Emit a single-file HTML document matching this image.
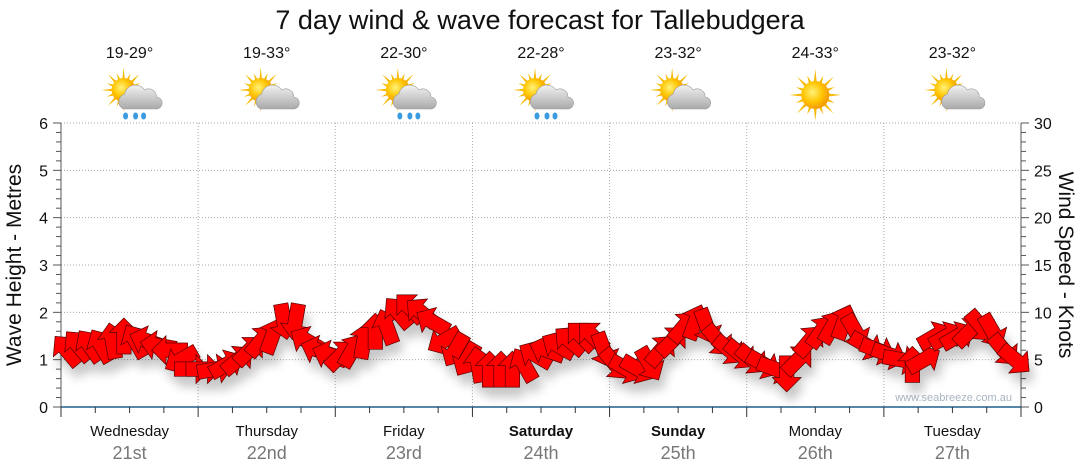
<!DOCTYPE html>
<html><head><meta charset="utf-8"><style>
body{margin:0;background:#fff;font-family:"Liberation Sans","DejaVu Sans",sans-serif}
svg{display:block}
</style></head><body>
<svg width="1080" height="475" viewBox="0 0 1080 475">
<defs>
<radialGradient id="sun" cx="0.4" cy="0.4" r="0.6"><stop offset="0" stop-color="#fff27a"/><stop offset="0.6" stop-color="#ffc400"/><stop offset="1" stop-color="#f39a00"/></radialGradient>
<linearGradient id="cloud" x1="0" y1="0" x2="0" y2="1"><stop offset="0" stop-color="#f2f2f2"/><stop offset="1" stop-color="#a9a9a9"/></linearGradient>
<filter id="shadow" x="-20%" y="-20%" width="140%" height="160%"><feGaussianBlur in="SourceAlpha" stdDeviation="5"/><feOffset dx="4" dy="10"/><feComponentTransfer><feFuncA type="linear" slope="0.22"/></feComponentTransfer><feMerge><feMergeNode/><feMergeNode in="SourceGraphic"/></feMerge></filter>
</defs>
<text x="540" y="29" text-anchor="middle" font-size="27" fill="#111">7 day wind &amp; wave forecast for Tallebudgera</text>
<g id="header"></g>
<g id="grid"></g>
<g id="axes"></g>
<text x="1012" y="401" text-anchor="end" font-size="11" fill="#a8b4c0">www.seabreeze.com.au</text>
<g id="arrows" filter="url(#shadow)"></g>
<text transform="translate(21,265) rotate(-90)" text-anchor="middle" font-size="21" fill="#111">Wave Height - Metres</text>
<text transform="translate(1059,265) rotate(90)" text-anchor="middle" font-size="21" fill="#111">Wind Speed - Knots</text>
</svg>
<script>
const days=["Wednesday","Thursday","Friday","Saturday","Sunday","Monday","Tuesday"];
const dates=["21st","22nd","23rd","24th","25th","26th","27th"];
const boldDays=[false,false,false,true,true,false,false];
const temps=["19-29°","19-33°","22-30°","22-28°","23-32°","24-33°","23-32°"];
const icons=["rain","cloud","rain","rain","cloud","sun","cloud"];
const leftTicks=[0,1,2,3,4,5,6];
const rightTicks=[0,5,10,15,20,25,30];
const windSpeed=[6,6.5,6.5,6.5,7,7.5,7,7,6.5,6,5,4,
4,4,4.5,5,6,7,7.5,9,9,7,6,5.5,
5.5,6,7,8,8.5,10,10.5,10,9,7,6,5,
4.5,4,4,4,4.5,5.5,6,6.5,7,7.5,7.5,6,
4.5,4,4,4.5,6,7,8.5,9,8.5,7,6,5.5,
5,4.5,4,3.5,5,7,8,8.5,9,8,6.5,6,
5.5,5,4.5,5,7.5,7.5,7.5,8,8.5,8,6,5];
const windDir=[-40,-40,-35,-30,-10,0,-30,-70,-80,-90,-120,90,
90,80,60,50,45,40,20,170,190,300,290,290,
45,30,10,0,-20,-40,-45,-50,-60,-120,-150,-150,
-10,0,0,0,-30,-60,-70,-60,-50,-45,-45,160,
140,120,120,150,40,45,40,20,160,140,130,130,
130,120,110,180,45,40,35,30,20,150,120,110,
110,100,0,60,60,60,60,45,140,150,140,130];

const NS="http://www.w3.org/2000/svg";
function mk(t,a,p){const e=document.createElementNS(NS,t);for(const k in a)e.setAttribute(k,a[k]);p.appendChild(e);return e;}
const X0=61,X1=1021,Y0=407,Y1=123;
const dayW=(X1-X0)/7;
const yM=v=>Y0-(v/6)*(Y0-Y1);
const yK=v=>Y0-(v/30)*(Y0-Y1);
const xT=i=>X0+(i+0.5)*dayW/12;

const grid=document.getElementById('grid');
for(const t of leftTicks){if(t===0)continue;
 const l=mk('line',{x1:X0,x2:X1,y1:yM(t),y2:yM(t),stroke:'#aaa','stroke-dasharray':'1,2'},grid);
 
 }
for(let d=1;d<=7;d++){const x=X0+d*dayW;
 const l=mk('line',{x1:x,x2:x,y1:Y1,y2:Y0,stroke:'#aaa','stroke-dasharray':'1,2'},grid);
 
 }

const ax=document.getElementById('axes');
mk('line',{x1:X0,x2:X0,y1:Y1,y2:Y0,stroke:'#555'},ax);
mk('line',{x1:X1,x2:X1,y1:Y1,y2:Y0,stroke:'#555'},ax);
mk('line',{x1:X0,x2:X1,y1:Y0,y2:Y0,stroke:'#1f5f8b','stroke-width':1.5},ax);
for(let v=0;v<=6.001;v+=0.2){const y=yM(v);const major=Math.abs(v-Math.round(v))<0.01;
 mk('line',{x1:X0-(major?8:5),x2:X0,y1:y,y2:y,stroke:'#555'},ax);
 mk('line',{x1:X1,x2:X1+(major?8:5),y1:y,y2:y,stroke:'#555'},ax);}
for(const t of leftTicks){const tx=mk('text',{x:X0-13,y:yM(t)+6,'text-anchor':'end','font-size':16,fill:'#111'},ax);tx.textContent=t;
 
 }
for(const t of rightTicks){const tx=mk('text',{x:X1+13,y:yK(t)+6,'font-size':16,fill:'#111'},ax);tx.textContent=t;
 
 }
for(let i=0;i<=28;i++){const x=X0+i*dayW/4;mk('line',{x1:x,x2:x,y1:Y0,y2:Y0+(i%4===0?10:6),stroke:'#333'},ax);}
days.forEach((d,i)=>{const cx=X0+(i+0.5)*dayW;
 const t=mk('text',{x:cx,y:436,'text-anchor':'middle','font-size':15,fill:'#111','font-weight':boldDays[i]?'bold':'normal'},ax);t.textContent=d;
 
 
 const t2=mk('text',{x:cx,y:459,'text-anchor':'middle','font-size':18,fill:'#777'},ax);t2.textContent=dates[i];
 
 });

const hd=document.getElementById('header');
function sun(g,cx,cy,r){for(let k=0;k<16;k++){const a=k*Math.PI/8;const L=k%2?r*1.5:r*1.85;
 mk('polygon',{points:`${cx+Math.cos(a-0.12)*r*0.9},${cy+Math.sin(a-0.12)*r*0.9} ${cx+Math.cos(a)*L},${cy+Math.sin(a)*L} ${cx+Math.cos(a+0.12)*r*0.9},${cy+Math.sin(a+0.12)*r*0.9}`,fill:'#f6b800'},g);}
 mk('circle',{cx,cy,r,fill:'url(#sun)'},g);}
function cloud(g,cx,cy){mk('path',{d:`M${cx-14},${cy+14} a8,8 0 0 1 1,-15 a11,11 0 0 1 20,-4 a8,8 0 0 1 12,7 a6,6 0 0 1 -1,12 z`,fill:'url(#cloud)',stroke:'#999','stroke-width':0.6},g);}
temps.forEach((t,i)=>{const cx=X0+(i+0.5)*dayW;
 const tx=mk('text',{x:cx,y:58,'text-anchor':'middle','font-size':16,fill:'#111'},hd);tx.textContent=t;
 
 
 const g=mk('g',{},hd);
 
 
 if(icons[i]==='sun'){sun(g,cx,95,14);}
 else{sun(g,cx-6,90,12);cloud(g,cx+8,95);
  if(icons[i]==='rain'){[-4,6,14].forEach(dx=>mk('ellipse',{cx:cx+dx,cy:116,rx:2.5,ry:3.5,fill:'#3a9be0'},g));}}
});

const ar=document.getElementById('arrows');
windSpeed.forEach((s,i)=>{const x=xT(i),y=yK(s);
 const p=mk('polygon',{points:'-6,15 -6,-3 -12,-3 0,-15 12,-3 6,-3 6,15',fill:'#f00',stroke:'#5a0000','stroke-width':0.6,
  transform:`translate(${x.toFixed(1)},${y.toFixed(1)}) rotate(${windDir[i]}) scale(1.2)`},ar);
 
 });
</script>
</body></html>
